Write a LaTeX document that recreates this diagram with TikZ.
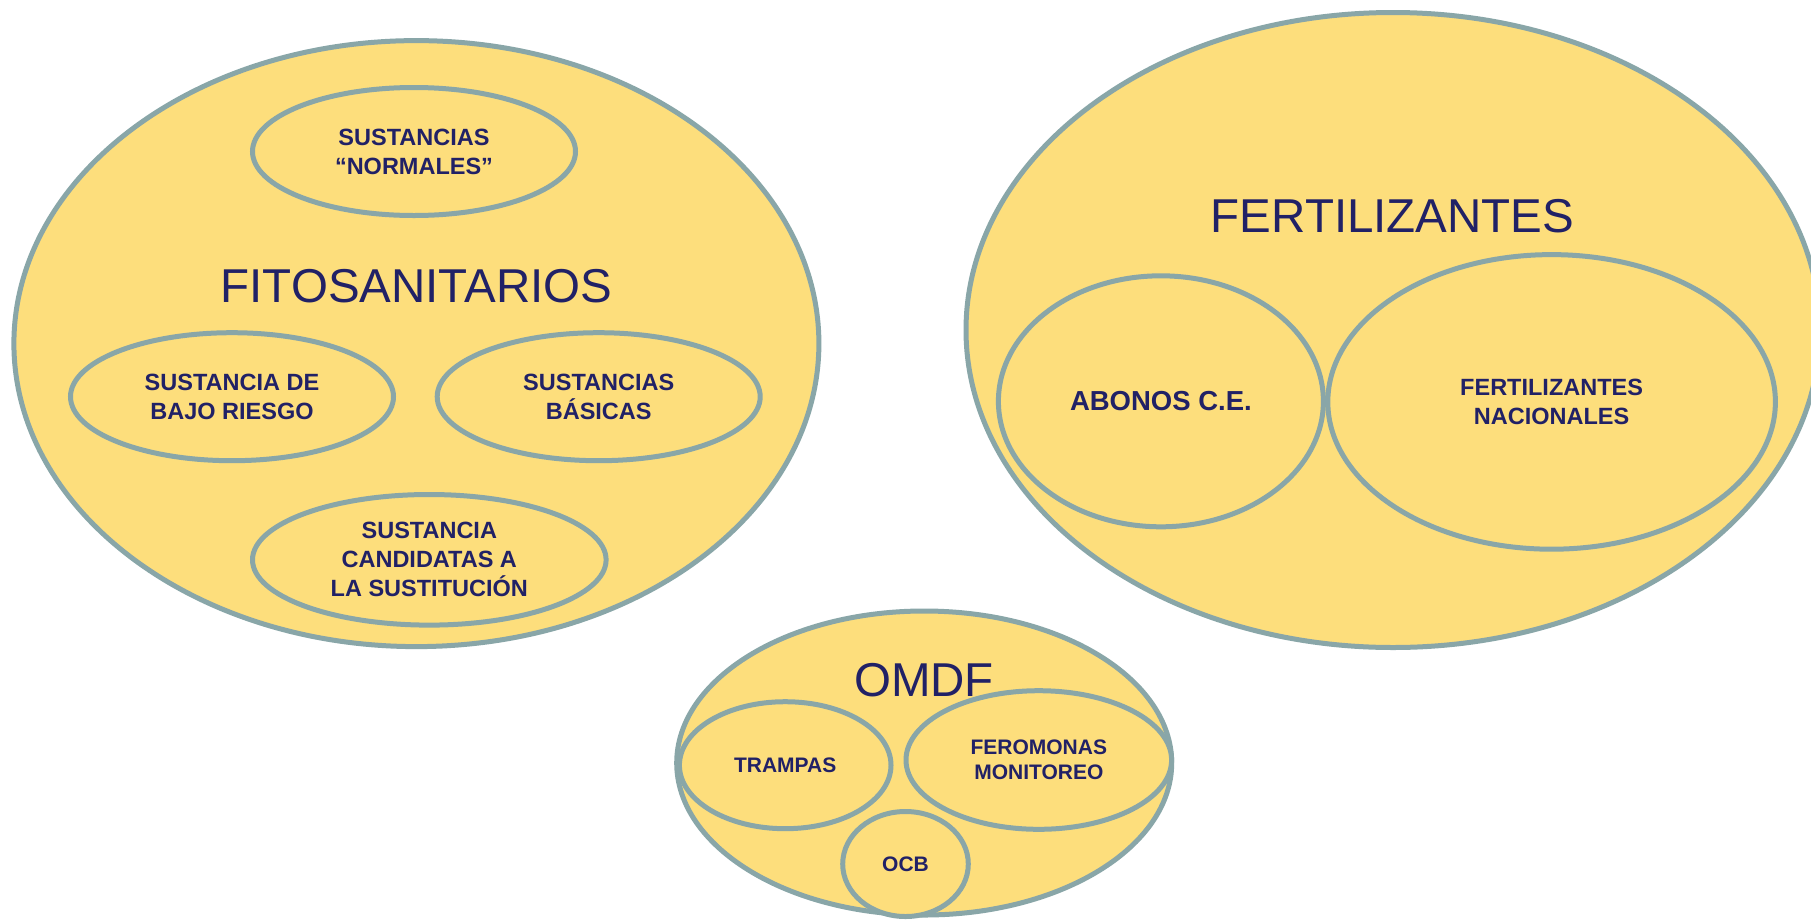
\documentclass[tikz,border=0pt]{standalone}
\usepackage{fontspec}
\setmainfont{Liberation Sans}
\usetikzlibrary{shapes.geometric}
\definecolor{fillc}{RGB}{253,222,124}
\definecolor{linec}{RGB}{137,166,168}
\definecolor{textc}{RGB}{33,33,102}
\tikzset{
  blob/.style={ellipse, draw=linec, fill=fillc, line width=5pt, inner sep=0pt},
  title/.style={text=textc, font=\fontsize{47.5}{57}\selectfont, inner sep=0pt},
  sub/.style={blob, text=textc, align=center, font=\fontsize{23.5}{29}\selectfont\bfseries},
  subsmall/.style={blob, text=textc, align=center, font=\fontsize{21}{25}\selectfont\bfseries},
  subbig/.style={blob, text=textc, align=center, font=\fontsize{27.5}{33}\selectfont\bfseries},
}
\begin{document}
\begin{tikzpicture}[x=1pt,y=-1pt]
\useasboundingbox (0,0) rectangle (1811,919);
\clip (0,0) rectangle (1811,919);
\fill[white] (0,0) rectangle (1811,919);

% FITOSANITARIOS
\node[blob, minimum width=805pt, minimum height=606pt] (fito) at (416.4,343.6) {};
\node[title] (fitot) at (416.4,286.6) {FITOSANITARIOS};
\node[sub, minimum width=323pt, minimum height=128pt] (normales) at (414,151.5) {SUSTANCIAS\\“NORMALES”};
\node[sub, minimum width=323pt, minimum height=128pt] (bajo) at (232,396.7) {SUSTANCIA DE\\BAJO RIESGO};
\node[sub, minimum width=323pt, minimum height=128pt] (basicas) at (598.7,396.7) {SUSTANCIAS\\BÁSICAS};
\node[sub, minimum width=353.6pt, minimum height=130.6pt] (candid) at (429.3,559.8) {SUSTANCIA\\CANDIDATAS A\\LA SUSTITUCIÓN};

% FERTILIZANTES
\node[blob, minimum width=854pt, minimum height=635pt] (fert) at (1393,330) {};
\node[title] (fertt) at (1392.6,215.9) {FERTILIZANTES};
\node[subbig, minimum width=325pt, minimum height=251pt] (abonos) at (1160.9,401.3) {ABONOS C.E.};
\node[sub, minimum width=447.6pt, minimum height=294.6pt] (nac) at (1551.6,401.9) {FERTILIZANTES\\NACIONALES};

% OMDF
\node[blob, minimum width=495pt, minimum height=304pt] (omdf) at (924.2,763) {};
\node[title] (omdft) at (924,679.7) {OMDF};
\node[subsmall, minimum width=211.6pt, minimum height=127pt] (trampas) at (785.2,765.2) {TRAMPAS};
\node[subsmall, minimum width=265.6pt, minimum height=138.6pt] (fero) at (1038.8,760) {FEROMONAS\\MONITOREO};
\node[subsmall, minimum width=125.6pt, minimum height=105pt] (ocb) at (905.5,864) {OCB};
\end{tikzpicture}
\end{document}
